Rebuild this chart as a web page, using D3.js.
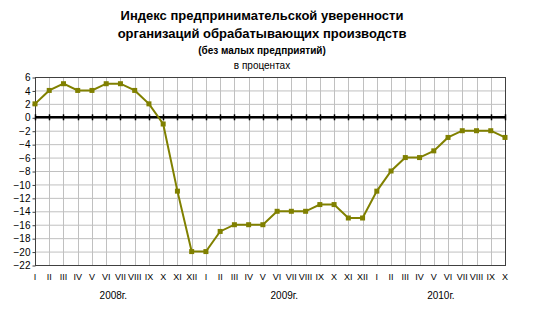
<!doctype html>
<html>
<head>
<meta charset="utf-8">
<script src="https://d3js.org/d3.v7.min.js"></script>
<style>
  body { margin: 0; background: #fff; }
  text { font-family: Arial, "Liberation Sans", sans-serif; fill: #000; }
</style>
</head>
<body>
<div id="chart"></div>
<script>
(function () {
  "use strict";

  // month labels, one per point
  const months = ["I","II","III","IV","V","VI","VII","VIII","IX","X","XI","XII",
                  "I","II","III","IV","V","VI","VII","VIII","IX","X","XI","XII",
                  "I","II","III","IV","V","VI","VII","VIII","IX","X"];
  // index values, %
  const values = [2, 4, 5, 4, 4, 5, 5, 4, 2, -1, -11, -20,
                  -20, -17, -16, -16, -16, -14, -14, -14, -13, -13, -15, -15,
                  -11, -8, -6, -6, -5, -3, -2, -2, -2, -3];
  const years = ["2008г.", "2009г.", "2010г."];
  const yearCenters = [5.5, 17.5, 28.5];
  const yTicks = d3.range(-22, 7, 2);

  const width = 536, height = 312;
  const left = 35, right = 505, top = 77, bottom = 265;

  const svg = d3.select("#chart").append("svg")
    .attr("width", width).attr("height", height);

  const x = d3.scaleLinear().domain([0, values.length - 1]).range([left, right]);
  const y = d3.scaleLinear().domain([-22, 6]).range([bottom, top]);

  // title
  const titles = [
    { t: "Индекс предпринимательской уверенности", y: 20, size: 13, w: "bold" },
    { t: "организаций обрабатывающих производств", y: 38, size: 13, w: "bold" },
    { t: "(без малых предприятий)", y: 54, size: 10, w: "bold" },
    { t: "в процентах", y: 69, size: 10, w: "normal" }
  ];
  svg.selectAll("text.title").data(titles).enter().append("text")
    .attr("class", "title")
    .attr("x", 262).attr("y", d => d.y)
    .attr("text-anchor", "middle")
    .attr("font-size", d => d.size)
    .attr("font-weight", d => d.w)
    .text(d => d.t);

  // grid
  svg.append("g").selectAll("line").data(yTicks).enter().append("line")
    .attr("x1", left).attr("x2", right)
    .attr("y1", d => y(d) + 0.5).attr("y2", d => y(d) + 0.5)
    .attr("stroke", "#c0c0c0");
  svg.append("g").selectAll("line").data(d3.range(values.length)).enter().append("line")
    .attr("x1", d => Math.round(x(d)) + 0.5).attr("x2", d => Math.round(x(d)) + 0.5)
    .attr("y1", top).attr("y2", bottom)
    .attr("stroke", "#c0c0c0");

  // frame
  svg.append("rect")
    .attr("x", left + 0.5).attr("y", top + 0.5)
    .attr("width", right - left).attr("height", bottom - top)
    .attr("fill", "none").attr("stroke", "#404040");

  // y axis
  const yAxis = svg.append("g")
    .attr("transform", "translate(" + (left + 0.5) + ",0.5)")
    .call(d3.axisLeft(y).tickValues(yTicks).tickSize(3).tickPadding(2));
  yAxis.select(".domain").remove();
  yAxis.selectAll("line").attr("stroke", "#404040");
  yAxis.selectAll("text").attr("font-size", 10).attr("font-family", "Arial, 'Liberation Sans', sans-serif");

  // zero line with ticks
  svg.append("line")
    .attr("x1", left).attr("x2", right)
    .attr("y1", y(0)).attr("y2", y(0))
    .attr("stroke", "#000").attr("stroke-width", 2.5);
  svg.append("g").selectAll("line").data(d3.range(values.length)).enter().append("line")
    .attr("x1", d => Math.round(x(d)) + 0.5).attr("x2", d => Math.round(x(d)) + 0.5)
    .attr("y1", y(0) - 3).attr("y2", y(0) + 3)
    .attr("stroke", "#000").attr("stroke-width", 1.5);

  // month labels
  svg.append("g").selectAll("text").data(months).enter().append("text")
    .attr("x", (d, i) => x(i))
    .attr("y", 280)
    .attr("text-anchor", "middle")
    .attr("font-size", 9)
    .text(d => d);

  svg.append("g").selectAll("text").data(years).enter().append("text")
    .attr("x", (d, i) => x(yearCenters[i]))
    .attr("y", 299)
    .attr("text-anchor", "middle")
    .attr("font-size", 10)
    .text(d => d);

  // series
  const line = d3.line().x((d, i) => x(i)).y(d => y(d));
  svg.append("path").datum(values)
    .attr("d", line)
    .attr("fill", "none")
    .attr("stroke", "#808000")
    .attr("stroke-width", 2);
  svg.append("g").selectAll("rect").data(values).enter().append("rect")
    .attr("x", (d, i) => x(i) - 2.5).attr("y", d => y(d) - 2.5)
    .attr("width", 5).attr("height", 5)
    .attr("fill", "#808000");
})();
</script>
</body>
</html>
